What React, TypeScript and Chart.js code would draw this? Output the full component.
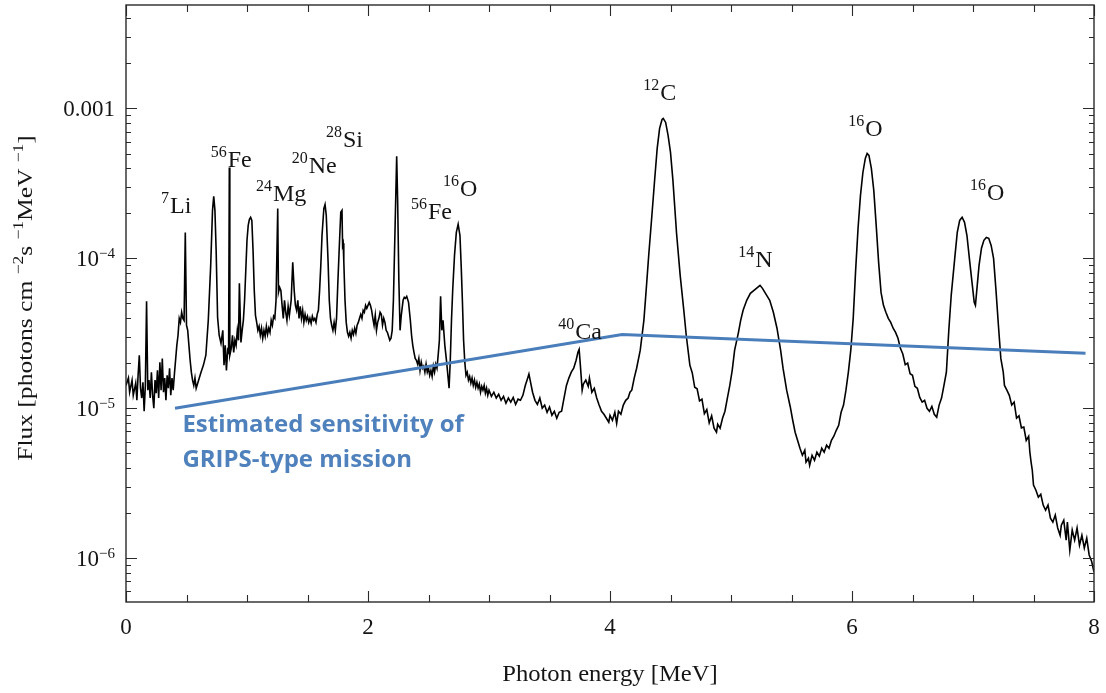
import React, { useEffect, useRef } from "react";
import { Chart, registerables } from "chart.js";
Chart.register(...registerables);

// ---------- data ----------
const spectrumEnergy = [
  0.00, 0.02, 0.03, 0.05, 0.06, 0.08, 0.09, 0.10, 0.11, 0.12, 0.13, 0.14, 0.15, 0.16, 0.17, 0.18, 0.19, 0.20,
  0.21, 0.22, 0.23, 0.24, 0.25, 0.26, 0.27, 0.28, 0.29, 0.30, 0.31, 0.32, 0.33, 0.34, 0.35, 0.36, 0.37, 0.38,
  0.39, 0.40, 0.42, 0.43, 0.44, 0.45, 0.46, 0.47, 0.48, 0.49, 0.50, 0.51, 0.52, 0.53, 0.54, 0.55, 0.56, 0.57,
  0.58, 0.60, 0.62, 0.64, 0.66, 0.68, 0.70, 0.715, 0.725, 0.735, 0.745, 0.757, 0.77, 0.785, 0.80, 0.81, 0.82,
  0.83, 0.84, 0.848, 0.854, 0.858, 0.87, 0.88, 0.89, 0.90, 0.91, 0.92, 0.93, 0.937, 0.95, 0.96, 0.97, 0.98,
  0.99, 1.00, 1.01, 1.02, 1.03, 1.04, 1.05, 1.06, 1.07, 1.08, 1.09, 1.10, 1.11, 1.12, 1.13, 1.14, 1.15, 1.16,
  1.17, 1.18, 1.19, 1.20, 1.21, 1.22, 1.23, 1.24, 1.254, 1.26, 1.27, 1.28, 1.29, 1.30, 1.31, 1.32, 1.33, 1.34,
  1.35, 1.365, 1.378, 1.39, 1.40, 1.41, 1.42, 1.43, 1.44, 1.45, 1.46, 1.47, 1.48, 1.49, 1.50, 1.51, 1.52, 1.53,
  1.54, 1.55, 1.56, 1.57, 1.58, 1.59, 1.60, 1.61, 1.62, 1.635, 1.645, 1.655, 1.67, 1.68, 1.69, 1.70, 1.71, 1.72,
  1.73, 1.74, 1.75, 1.765, 1.775, 1.785, 1.79, 1.795, 1.80, 1.81, 1.82, 1.83, 1.84, 1.85, 1.86, 1.87, 1.88, 1.89,
  1.90, 1.91, 1.92, 1.93, 1.94, 1.95, 1.96, 1.97, 1.98, 1.99, 2.00, 2.01, 2.02, 2.03, 2.04, 2.05, 2.06, 2.07,
  2.08, 2.09, 2.10, 2.11, 2.12, 2.13, 2.14, 2.15, 2.16, 2.17, 2.18, 2.19, 2.20, 2.21, 2.225, 2.237, 2.245, 2.255,
  2.265, 2.275, 2.29, 2.30, 2.31, 2.32, 2.335, 2.35, 2.36, 2.37, 2.38, 2.39, 2.40, 2.41, 2.42, 2.43, 2.44, 2.45,
  2.46, 2.47, 2.48, 2.49, 2.50, 2.51, 2.52, 2.53, 2.54, 2.55, 2.56, 2.57, 2.58, 2.59, 2.60, 2.61, 2.62, 2.635,
  2.65, 2.66, 2.67, 2.68, 2.69, 2.70, 2.715, 2.73, 2.745, 2.76, 2.77, 2.78, 2.79, 2.80, 2.81, 2.82, 2.83, 2.84,
  2.85, 2.86, 2.87, 2.88, 2.89, 2.90, 2.91, 2.92, 2.93, 2.94, 2.95, 2.96, 2.97, 2.98, 2.99, 3.00, 3.02, 3.04,
  3.06, 3.08, 3.10, 3.12, 3.14, 3.16, 3.18, 3.20, 3.22, 3.24, 3.26, 3.28, 3.30, 3.32, 3.33, 3.34, 3.36, 3.38,
  3.40, 3.42, 3.44, 3.46, 3.48, 3.50, 3.52, 3.54, 3.56, 3.58, 3.60, 3.62, 3.64, 3.66, 3.68, 3.70, 3.72, 3.735,
  3.745, 3.755, 3.77, 3.78, 3.80, 3.82, 3.83, 3.85, 3.87, 3.89, 3.91, 3.93, 3.95, 3.97, 3.99, 4.00, 4.02, 4.04,
  4.055, 4.07, 4.09, 4.11, 4.13, 4.15, 4.165, 4.18, 4.20, 4.22, 4.25, 4.28, 4.30, 4.32, 4.345, 4.37, 4.39, 4.41,
  4.43, 4.44, 4.46, 4.48, 4.50, 4.52, 4.55, 4.58, 4.61, 4.63, 4.66, 4.68, 4.70, 4.72, 4.74, 4.76, 4.78, 4.80,
  4.82, 4.84, 4.86, 4.88, 4.89, 4.91, 4.93, 4.95, 4.97, 4.99, 5.01, 5.03, 5.06, 5.08, 5.10, 5.13, 5.16, 5.19,
  5.22, 5.24, 5.26, 5.28, 5.30, 5.32, 5.35, 5.38, 5.41, 5.43, 5.46, 5.49, 5.51, 5.53, 5.55, 5.57, 5.59, 5.61,
  5.62, 5.64, 5.65, 5.67, 5.69, 5.71, 5.73, 5.75, 5.77, 5.79, 5.81, 5.83, 5.85, 5.87, 5.89, 5.91, 5.93, 5.95,
  5.97, 5.99, 6.01, 6.03, 6.05, 6.07, 6.09, 6.11, 6.125, 6.14, 6.16, 6.18, 6.20, 6.22, 6.24, 6.26, 6.28, 6.30,
  6.32, 6.34, 6.36, 6.38, 6.40, 6.42, 6.44, 6.46, 6.48, 6.50, 6.52, 6.54, 6.56, 6.58, 6.60, 6.62, 6.64, 6.66,
  6.68, 6.70, 6.72, 6.74, 6.76, 6.78, 6.80, 6.82, 6.85, 6.87, 6.89, 6.91, 6.93, 6.95, 6.97, 6.99, 7.01, 7.02,
  7.035, 7.05, 7.07, 7.09, 7.11, 7.13, 7.15, 7.17, 7.19, 7.21, 7.23, 7.25, 7.26, 7.28, 7.30, 7.32, 7.34, 7.36,
  7.38, 7.40, 7.42, 7.44, 7.46, 7.47, 7.48, 7.49, 7.50, 7.52, 7.54, 7.56, 7.58, 7.60, 7.62, 7.64, 7.66, 7.68,
  7.70, 7.72, 7.73, 7.75, 7.77, 7.78, 7.80, 7.82, 7.84, 7.86, 7.88, 7.90, 7.92, 7.94, 7.96, 7.98, 8.00,
];

const spectrumFlux = [
  1.42e-5, 1.59e-5, 1.28e-5, 1.54e-5, 1.22e-5, 1.47e-5, 1.13e-5, 1.66e-5, 2.26e-5, 1.36e-5, 1.17e-5, 1.49e-5, 9.55e-6, 1.42e-5, 5.17e-5, 1.32e-5, 1.54e-5, 1.17e-5,
  1.74e-5, 1.22e-5, 1.0e-5, 1.54e-5, 1.26e-5, 1.79e-5, 1.17e-5, 2.03e-5, 1.32e-5, 2.15e-5, 1.28e-5, 1.59e-5, 1.13e-5, 1.66e-5, 1.36e-5, 1.85e-5, 1.22e-5, 1.59e-5,
  1.32e-5, 1.69e-5, 2.63e-5, 3.07e-5, 3.98e-5, 3.74e-5, 4.37e-5, 3.98e-5, 3.86e-5, 1.49e-4, 3.58e-5, 3.31e-5, 2.63e-5, 2.09e-5, 1.74e-5, 1.54e-5, 1.42e-5, 1.59e-5,
  1.36e-5, 1.54e-5, 1.74e-5, 1.94e-5, 2.26e-5, 3.86e-5, 8.98e-5, 2.09e-4, 2.59e-4, 2.09e-4, 1.13e-4, 4.04e-5, 3.07e-5, 2.71e-5, 3.31e-5, 1.94e-5, 2.63e-5,
  1.79e-5, 2.44e-5, 2.36e-5, 4.04e-4, 2.26e-5, 2.51e-5, 3.07e-5, 2.36e-5, 2.84e-5, 2.63e-5, 3.31e-5, 2.84e-5, 6.81e-5, 2.75e-5, 3.31e-5, 3.86e-5, 5.25e-5,
  8.32e-5, 1.32e-4, 1.66e-4, 1.82e-4, 1.88e-4, 1.79e-4, 1.13e-4, 6.12e-5, 4.17e-5, 3.74e-5, 3.31e-5, 3.52e-5, 3.07e-5, 3.42e-5, 2.93e-5, 3.31e-5, 3.02e-5, 3.52e-5,
  3.11e-5, 3.42e-5, 3.21e-5, 3.86e-5, 3.58e-5, 4.11e-5, 3.98e-5, 5.25e-5, 2.15e-4, 5.93e-5, 6.41e-5, 6.12e-5, 4.86e-5, 3.98e-5, 5.25e-5, 4.37e-5, 3.86e-5, 4.79e-5,
  4.17e-5, 5.25e-5, 9.40e-5, 6.12e-5, 4.86e-5, 4.50e-5, 5.25e-5, 3.98e-5, 4.79e-5, 3.98e-5, 4.50e-5, 3.74e-5, 4.23e-5, 3.86e-5, 4.11e-5, 3.74e-5, 3.98e-5, 3.69e-5,
  4.11e-5, 3.86e-5, 3.98e-5, 3.74e-5, 4.23e-5, 4.50e-5, 6.12e-5, 8.98e-5, 1.42e-4, 2.15e-4, 2.29e-4, 1.94e-4, 9.55e-5, 5.25e-5, 3.98e-5, 3.58e-5, 3.31e-5, 3.74e-5,
  3.31e-5, 3.98e-5, 6.61e-5, 1.32e-4, 2.03e-4, 2.09e-4, 1.22e-4, 1.26e-4, 9.55e-5, 5.25e-5, 3.74e-5, 3.21e-5, 3.02e-5, 3.21e-5, 2.93e-5, 3.31e-5, 3.11e-5, 3.42e-5,
  3.16e-5, 3.58e-5, 3.74e-5, 3.98e-5, 4.23e-5, 3.98e-5, 4.50e-5, 4.37e-5, 4.86e-5, 4.64e-5, 4.86e-5, 5.09e-5, 4.86e-5, 4.50e-5, 3.98e-5, 3.58e-5, 4.17e-5, 3.31e-5,
  3.74e-5, 3.98e-5, 4.37e-5, 4.23e-5, 3.58e-5, 3.98e-5, 3.74e-5, 3.31e-5, 3.21e-5, 3.02e-5, 2.84e-5, 2.93e-5, 3.31e-5, 5.25e-5, 1.79e-4, 4.79e-4, 2.44e-4, 7.13e-5,
  3.31e-5, 4.17e-5, 5.25e-5, 5.50e-5, 5.41e-5, 5.58e-5, 5.09e-5, 3.86e-5, 3.07e-5, 2.63e-5, 2.36e-5, 2.15e-5, 2.09e-5, 1.97e-5, 2.15e-5, 1.79e-5, 2.03e-5, 1.85e-5,
  1.91e-5, 1.74e-5, 1.97e-5, 1.74e-5, 1.85e-5, 1.66e-5, 1.79e-5, 1.63e-5, 1.91e-5, 1.74e-5, 1.97e-5, 1.85e-5, 2.26e-5, 2.84e-5, 5.58e-5, 3.31e-5, 3.86e-5, 2.63e-5,
  2.03e-5, 1.66e-5, 1.36e-5, 2.09e-5, 3.86e-5, 6.12e-5, 1.05e-4, 1.49e-4, 1.69e-4, 1.42e-4, 8.98e-5, 5.25e-5, 2.84e-5, 2.03e-5, 1.66e-5, 1.74e-5, 1.54e-5, 1.63e-5,
  1.47e-5, 1.59e-5, 1.42e-5, 1.54e-5, 1.38e-5, 1.49e-5, 1.36e-5, 1.45e-5, 1.28e-5, 1.40e-5, 1.32e-5, 1.42e-5, 1.26e-5, 1.36e-5, 1.22e-5, 1.32e-5, 1.20e-5, 1.28e-5,
  1.17e-5, 1.24e-5, 1.13e-5, 1.20e-5, 1.08e-5, 1.17e-5, 1.10e-5, 1.18e-5, 1.06e-5, 1.15e-5, 1.13e-5, 1.22e-5, 1.42e-5, 1.59e-5, 1.69e-5, 1.54e-5, 1.28e-5, 1.13e-5,
  1.06e-5, 1.17e-5, 1.00e-5, 1.05e-5, 9.40e-6, 1.02e-5, 8.98e-6, 9.55e-6, 8.58e-6, 9.40e-6, 9.55e-6, 1.17e-5, 1.42e-5, 1.59e-5, 1.74e-5, 1.85e-5, 2.09e-5, 2.36e-5,
  2.47e-5, 1.94e-5, 1.32e-5, 1.45e-5, 1.54e-5, 1.40e-5, 1.59e-5, 1.28e-5, 1.36e-5, 1.17e-5, 1.05e-5, 9.55e-6, 9.12e-6, 8.58e-6, 8.07e-6, 8.98e-6, 8.32e-6, 9.40e-6,
  7.94e-6, 9.55e-6, 9.12e-6, 1.05e-5, 1.13e-5, 1.17e-5, 1.28e-5, 1.32e-5, 1.59e-5, 1.85e-5, 2.44e-5, 3.86e-5, 6.31e-5, 1.05e-4, 1.88e-4, 3.42e-4, 5.41e-4, 7.36e-4,
  8.45e-4, 8.58e-4, 8.07e-4, 6.61e-4, 5.09e-4, 3.31e-4, 1.47e-4, 7.70e-5, 4.50e-5, 3.07e-5, 1.94e-5, 1.72e-5, 1.38e-5, 1.35e-5, 1.12e-5, 1.15e-5, 9.20e-6, 9.80e-6,
  8.00e-6, 8.90e-6, 7.36e-6, 6.92e-6, 7.82e-6, 7.36e-6, 8.58e-6, 9.55e-6, 1.17e-5, 1.42e-5, 1.79e-5, 2.44e-5, 3.16e-5, 3.86e-5, 4.50e-5, 5.25e-5, 5.84e-5, 6.12e-5,
  6.41e-5, 6.61e-5, 6.31e-5, 5.93e-5, 5.58e-5, 5.25e-5, 4.37e-5, 3.42e-5, 2.44e-5, 1.85e-5, 1.32e-5, 1.02e-5, 8.32e-6, 6.92e-6, 6.12e-6, 5.41e-6, 4.86e-6, 5.25e-6,
  4.37e-6, 4.64e-6, 4.17e-6, 4.86e-6, 4.50e-6, 5.09e-6, 4.79e-6, 5.41e-6, 5.09e-6, 5.67e-6, 5.41e-6, 6.12e-6, 6.51e-6, 7.13e-6, 7.70e-6, 9.40e-6, 1.05e-5, 1.32e-5,
  1.74e-5, 2.44e-5, 3.98e-5, 8.32e-5, 1.59e-4, 2.63e-4, 3.74e-4, 4.64e-4, 5.01e-4, 4.86e-4, 3.98e-4, 2.84e-4, 1.66e-4, 9.40e-5, 5.93e-5, 4.86e-5, 4.37e-5, 3.98e-5,
  3.74e-5, 3.42e-5, 3.21e-5, 2.93e-5, 2.51e-5, 2.30e-5, 1.95e-5, 2.00e-5, 1.70e-5, 1.66e-5, 1.40e-5, 1.36e-5, 1.18e-5, 1.10e-5, 1.13e-5, 1.00e-5, 9.55e-6, 1.03e-5,
  9.12e-6, 8.71e-6, 1.05e-5, 1.17e-5, 1.42e-5, 1.74e-5, 3.31e-5, 5.67e-5, 1.02e-4, 1.49e-4, 1.79e-4, 1.88e-4, 1.74e-4, 1.42e-4, 1.00e-4, 7.13e-5, 5.09e-5, 4.86e-5,
  6.61e-5, 8.98e-5, 1.17e-4, 1.32e-4, 1.38e-4, 1.36e-4, 1.22e-4, 1.00e-4, 6.12e-5, 3.58e-5, 2.15e-5, 1.74e-5, 1.42e-5, 1.32e-5, 1.22e-5, 1.05e-5, 1.10e-5, 8.60e-6,
  8.90e-6, 7.40e-6, 7.50e-6, 6.10e-6, 6.50e-6, 5.09e-6, 4.37e-6, 3.86e-6, 3.07e-6, 2.84e-6, 2.55e-6, 2.67e-6, 2.26e-6, 2.09e-6, 2.26e-6, 1.85e-6, 1.74e-6, 1.94e-6,
  1.59e-6, 1.42e-6, 1.66e-6, 1.79e-6, 1.32e-6, 1.74e-6, 1.13e-6, 1.54e-6, 1.32e-6, 1.59e-6, 1.22e-6, 1.42e-6, 1.17e-6, 1.36e-6, 1.05e-6, 9.55e-7, 8.07e-7,
];

const sensitivityEnergy = [0.405, 4.1, 7.93];
const sensitivityFlux = [1.0e-5, 3.1e-5, 2.33e-5];

const xTickValues = [0, 0.5, 1, 1.5, 2, 2.5, 3, 3.5, 4, 4.5, 5, 5.5, 6, 6.5, 7, 7.5, 8];
const xLabelledTicks = [0, 2, 4, 6, 8];
const yDecadeTicks = [1e-3, 1e-4, 1e-5, 1e-6];
const yDecadeBase = ["0.001", "10", "10", "10"];
const yDecadeExponent = ["", "\u22124", "\u22125", "\u22126"];
const yMinorMultipliers = [2, 3, 4, 5, 6, 7, 8, 9];
const yAllDecades = [1e-7, 1e-6, 1e-5, 1e-4, 1e-3];

const lineMass = ["7", "56", "24", "20", "28", "56", "16", "12", "40", "14", "16", "16"];
const lineElement = ["Li", "Fe", "Mg", "Ne", "Si", "Fe", "O", "C", "Ca", "N", "O", "O"];
const lineLabelEnergy = [0.29, 0.70, 1.074, 1.369, 1.653, 2.355, 2.62, 4.275, 3.573, 5.06, 5.97, 6.975];
const lineLabelFlux = [2.0e-4, 4.1e-4, 2.4e-4, 3.7e-4, 5.5e-4, 1.84e-4, 2.59e-4, 1.14e-3, 2.88e-5, 8.75e-5, 6.54e-4, 2.44e-4];

const sensitivityText = ["Estimated sensitivity of", "GRIPS-type mission"];
const sensitivityTextEnergy = 0.466;
const sensitivityTextFlux = 6.9e-6;

const xTitle = "Photon energy [MeV]";
const yTitleParts = [
  { t: "Flux [photons cm ", sup: false },
  { t: "\u22122", sup: true },
  { t: "s ", sup: false },
  { t: "\u22121", sup: true },
  { t: "MeV ", sup: false },
  { t: "\u22121", sup: true },
  { t: "]", sup: false },
];

const SERIF = '"Liberation Serif", "Times New Roman", Times, serif';
const TEXT = "#151515";
const BLUE_LINE = "#4a7ebb";
const BLUE_TEXT = "#4f81bd";

const decorPlugin = {
  id: "decor",
  afterDraw(chart: any) {
    const { ctx, chartArea: a, scales } = chart;
    const x = scales.x;
    const y = scales.y;
    ctx.save();

    // frame
    ctx.strokeStyle = "#2a2a2a";
    ctx.lineWidth = 1.4;
    ctx.strokeRect(a.left, a.top, a.right - a.left, a.bottom - a.top);

    // ticks (inward, all four sides)
    ctx.lineWidth = 1.1;
    ctx.beginPath();
    for (const v of xTickValues) {
      const px = Math.round(x.getPixelForValue(v)) + 0.5;
      const len = xLabelledTicks.includes(v) ? 11 : 7;
      ctx.moveTo(px, a.bottom);
      ctx.lineTo(px, a.bottom - len);
      ctx.moveTo(px, a.top);
      ctx.lineTo(px, a.top + len);
    }
    for (const d of yAllDecades) {
      const list = [1, ...yMinorMultipliers];
      for (const m of list) {
        const v = m * d;
        if (v < y.min || v > y.max) continue;
        const py = Math.round(y.getPixelForValue(v)) + 0.5;
        const len = m === 1 ? 11 : 5;
        ctx.moveTo(a.left, py);
        ctx.lineTo(a.left + len, py);
        ctx.moveTo(a.right, py);
        ctx.lineTo(a.right - len, py);
      }
    }
    ctx.stroke();

    ctx.fillStyle = TEXT;
    ctx.textBaseline = "alphabetic";

    // y tick labels
    yDecadeTicks.forEach((v, i) => {
      const py = y.getPixelForValue(v);
      const base = yDecadeBase[i];
      const ex = yDecadeExponent[i];
      ctx.font = `23px ${SERIF}`;
      const wb = ctx.measureText(base).width;
      ctx.font = `15px ${SERIF}`;
      const we = ex ? ctx.measureText(ex).width : 0;
      const right = a.left - 11;
      const left = right - wb - we;
      ctx.textAlign = "left";
      ctx.font = `23px ${SERIF}`;
      ctx.fillText(base, left, py + 8);
      if (ex) {
        ctx.font = `15px ${SERIF}`;
        ctx.fillText(ex, left + wb, py);
      }
    });

    // x title (slightly widened like the reference typesetting)
    ctx.save();
    ctx.font = `23px ${SERIF}`;
    ctx.textAlign = "center";
    ctx.translate((a.left + a.right) / 2, 681);
    ctx.scale(1.07, 1);
    ctx.fillText(xTitle, 0, 0);
    ctx.restore();

    // y title (rotated)
    ctx.save();
    ctx.translate(32, 298);
    ctx.rotate(-Math.PI / 2);
    ctx.scale(1.16, 1);
    let total = 0;
    for (const p of yTitleParts) {
      ctx.font = p.sup ? `15px ${SERIF}` : `22px ${SERIF}`;
      total += ctx.measureText(p.t).width;
    }
    let cx = -total / 2;
    ctx.textAlign = "left";
    for (const p of yTitleParts) {
      ctx.font = p.sup ? `15px ${SERIF}` : `22px ${SERIF}`;
      ctx.fillText(p.t, cx, p.sup ? -9 : 0);
      cx += ctx.measureText(p.t).width;
    }
    ctx.restore();

    // line annotations
    ctx.textAlign = "left";
    lineMass.forEach((mass, i) => {
      const px = x.getPixelForValue(lineLabelEnergy[i]);
      const py = y.getPixelForValue(lineLabelFlux[i]);
      ctx.font = `16px ${SERIF}`;
      ctx.fillText(mass, px, py - 10);
      const w = ctx.measureText(mass).width;
      ctx.font = `24px ${SERIF}`;
      ctx.fillText(lineElement[i], px + w + 1, py);
    });

    // sensitivity text
    ctx.fillStyle = BLUE_TEXT;
    ctx.font = `bold 24px "Open Sans", Lato, sans-serif`;
    const tx = x.getPixelForValue(sensitivityTextEnergy);
    const ty = y.getPixelForValue(sensitivityTextFlux);
    sensitivityText.forEach((line, i) => {
      ctx.fillText(line, tx, ty + i * 35);
    });

    ctx.restore();
  },
};

export default function App() {
  const ref = useRef<HTMLCanvasElement>(null);

  useEffect(() => {
    const canvas = ref.current;
    if (!canvas) return;
    const chart = new Chart(canvas, {
      type: "line",
      data: {
        datasets: [
          {
            label: "Estimated sensitivity",
            data: sensitivityEnergy.map((e, i) => ({ x: e, y: sensitivityFlux[i] })),
            borderColor: BLUE_LINE,
            borderWidth: 3,
            pointRadius: 0,
            tension: 0,
            fill: false,
          },
          {
            label: "Spectrum",
            data: spectrumEnergy.map((e, i) => ({ x: e, y: spectrumFlux[i] })),
            borderColor: "#000000",
            borderWidth: 1.6,
            pointRadius: 0,
            tension: 0,
            fill: false,
          },
        ],
      },
      plugins: [decorPlugin],
      options: {
        animation: false,
        responsive: false,
        devicePixelRatio: 1,
        layout: { padding: { top: 5, right: 12, left: 0, bottom: 0 } },
        plugins: { legend: { display: false }, tooltip: { enabled: false } },
        scales: {
          x: {
            type: "linear",
            min: 0,
            max: 8,
            grid: { display: false, drawTicks: false },
            border: { display: false },
            ticks: {
              stepSize: 2,
              autoSkip: false,
              maxRotation: 0,
              padding: 12,
              color: TEXT,
              font: { family: SERIF, size: 23 },
            },
            afterFit: (s: any) => {
              s.height = 91;
              s.paddingLeft = 0;
              s.paddingRight = 0;
            },
          },
          y: {
            type: "logarithmic",
            min: 5.1e-7,
            max: 4.9e-3,
            grid: { display: false, drawTicks: false },
            border: { display: false },
            ticks: { display: false },
            afterFit: (s: any) => {
              s.width = 126;
              s.paddingTop = 0;
              s.paddingBottom = 0;
            },
          },
        },
      },
    });
    return () => chart.destroy();
  }, []);

  return (
    <div style={{ position: "absolute", left: 0, top: 0, width: 1106, height: 693, background: "#ffffff" }}>
      <canvas ref={ref} width={1106} height={693} style={{ display: "block" }} />
    </div>
  );
}
